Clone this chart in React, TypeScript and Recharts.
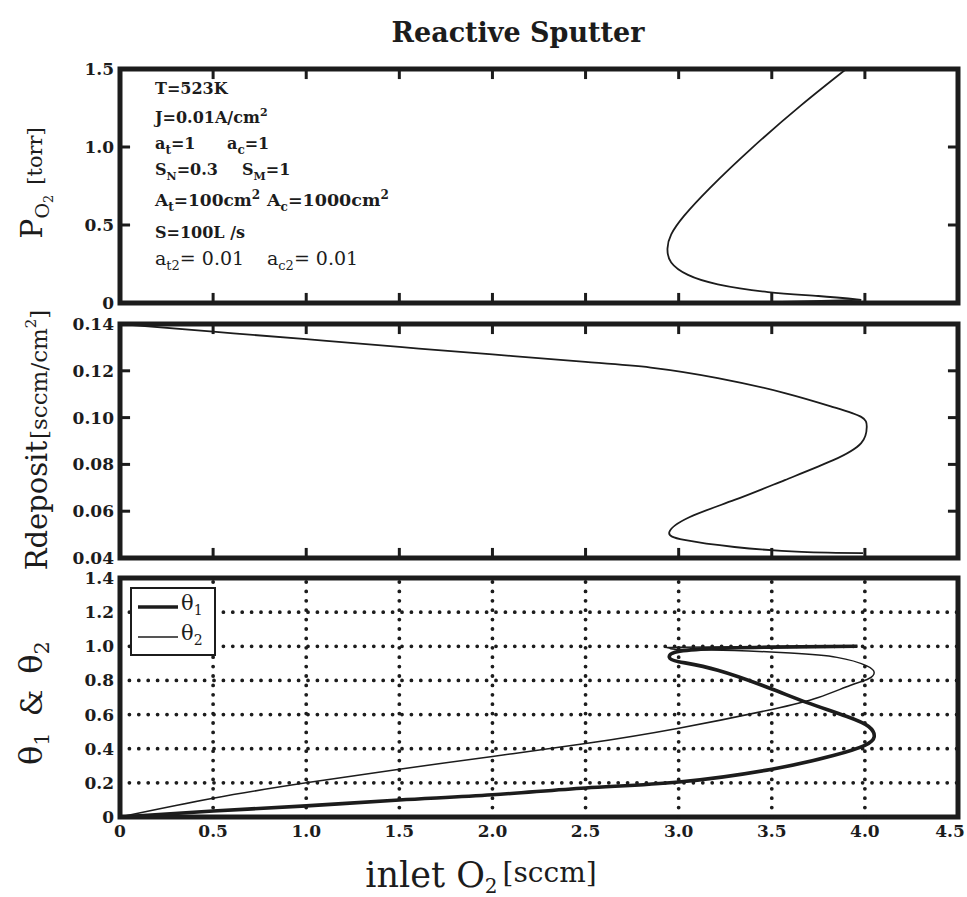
import React from 'react';
import { LineChart, Line, XAxis, YAxis, ReferenceArea, ReferenceLine, Legend } from 'recharts';

const SERIF = "'DejaVu Serif', serif";
const INK = '#1c1c1c';

// ---- axes / ticks ----
const xDomain: [number, number] = [0, 4.5];
const xTicks = [0, 0.5, 1, 1.5, 2, 2.5, 3, 3.5, 4, 4.5];
const pDomain: [number, number] = [0, 1.5];
const pTicks = [0, 0.5, 1.0, 1.5];
const rDomain: [number, number] = [0.04, 0.14];
const rTicks = [0.04, 0.06, 0.08, 0.1, 0.12, 0.14];
const thetaDomain: [number, number] = [0, 1.4];
const thetaTicks = [0, 0.2, 0.4, 0.6, 0.8, 1.0, 1.2, 1.4];
const xGridLines = [0.5, 1, 1.5, 2, 2.5, 3, 3.5, 4];
const thetaGridLines = [0.2, 0.4, 0.6, 0.8, 1.0, 1.2];

// ---- P_O2 [torr] vs inlet O2 ----
const pMetalBranch = [
  { x: 0, y: 0 }, { x: 1.0, y: 0.001 }, { x: 2.0, y: 0.002 }, { x: 3.0, y: 0.004 },
  { x: 3.5, y: 0.006 }, { x: 3.98, y: 0.02 },
];
const pCurve = [
  { x: 3.98, y: 0.02 }, { x: 3.75, y: 0.045 }, { x: 3.48, y: 0.07 }, { x: 3.21, y: 0.12 },
  { x: 3.05, y: 0.18 }, { x: 2.96, y: 0.26 }, { x: 2.94, y: 0.35 }, { x: 2.96, y: 0.44 },
  { x: 3.03, y: 0.56 }, { x: 3.17, y: 0.74 }, { x: 3.39, y: 0.99 }, { x: 3.66, y: 1.27 },
  { x: 3.9, y: 1.5 },
];

// ---- Rdeposit [sccm/cm2] vs inlet O2 ----
const rDeposit = [
  { x: 0, y: 0.14 }, { x: 0.5, y: 0.1367 }, { x: 1.0, y: 0.1335 }, { x: 1.5, y: 0.1302 },
  { x: 2.0, y: 0.127 }, { x: 2.5, y: 0.1238 }, { x: 2.85, y: 0.1214 }, { x: 3.21, y: 0.1169 },
  { x: 3.57, y: 0.1105 }, { x: 3.83, y: 0.1045 }, { x: 3.98, y: 0.1003 }, { x: 4.01, y: 0.096 },
  { x: 3.98, y: 0.0891 }, { x: 3.83, y: 0.0818 }, { x: 3.57, y: 0.0733 }, { x: 3.3, y: 0.0648 },
  { x: 3.06, y: 0.0575 }, { x: 2.95, y: 0.0511 }, { x: 3.03, y: 0.0477 }, { x: 3.3, y: 0.0447 },
  { x: 3.66, y: 0.0426 }, { x: 3.99, y: 0.0421 },
];

// ---- theta1 / theta2 vs inlet O2 ----
const theta1 = [
  { x: 0, y: 0 }, { x: 0.5, y: 0.035 }, { x: 1.0, y: 0.065 }, { x: 1.5, y: 0.1 },
  { x: 2.0, y: 0.13 }, { x: 2.5, y: 0.17 }, { x: 3.0, y: 0.205 }, { x: 3.5, y: 0.28 },
  { x: 3.83, y: 0.36 }, { x: 4.0, y: 0.42 }, { x: 4.05, y: 0.47 }, { x: 4.02, y: 0.53 },
  { x: 3.9, y: 0.59 }, { x: 3.69, y: 0.67 }, { x: 3.5, y: 0.75 }, { x: 3.21, y: 0.86 },
  { x: 3.0, y: 0.91 }, { x: 2.95, y: 0.935 }, { x: 2.98, y: 0.965 }, { x: 3.15, y: 0.985 },
  { x: 3.5, y: 0.995 }, { x: 3.96, y: 1.0 },
];
const theta2 = [
  { x: 0, y: 0 }, { x: 0.5, y: 0.11 }, { x: 1.0, y: 0.2 }, { x: 1.5, y: 0.28 },
  { x: 2.0, y: 0.355 }, { x: 2.5, y: 0.43 }, { x: 3.0, y: 0.52 }, { x: 3.5, y: 0.63 },
  { x: 3.75, y: 0.7 }, { x: 3.92, y: 0.77 }, { x: 4.02, y: 0.81 }, { x: 4.05, y: 0.845 },
  { x: 4.01, y: 0.885 }, { x: 3.85, y: 0.935 }, { x: 3.6, y: 0.96 }, { x: 3.3, y: 0.975 },
  { x: 3.0, y: 0.982 }, { x: 2.95, y: 0.99 }, { x: 3.0, y: 0.995 }, { x: 3.5, y: 0.998 },
  { x: 3.96, y: 1.0 },
];
const thetaNames = ['θ1', 'θ2'];

const fmt1 = (v: number) => (v === 0 ? '0' : v.toFixed(1));
const fmt2 = (v: number) => v.toFixed(2);

const tickFont = { fontFamily: SERIF, fontSize: 17, fontWeight: 700, fill: INK };
const tickLineStyle = { stroke: INK, strokeWidth: 3 };
const dotted = { stroke: INK, strokeWidth: 3.8, strokeDasharray: '0 9.4', strokeLinecap: 'round' as const };

// inward tick lengths as fractions of each axis span (~10px)
const X_TICK_FRAC = 0.012;
const Y_TICK_FRAC = 0.043;

const BottomXTick = (props: any) => {
  const { x, y, payload } = props;
  const last = payload.value === 4.5;
  return (
    <text x={last ? x - 8 : x} y={y} dy="0.71em" textAnchor="middle" {...tickFont}>
      {fmt1(payload.value)}
    </text>
  );
};

const ThetaLegend = (props: any) => {
  const { payload } = props;
  return (
    <div
      style={{
        border: `2px solid ${INK}`, background: '#fff', width: 86, height: 69,
        boxSizing: 'border-box', padding: '3px 0 0 6px',
      }}
    >
      {(payload || []).map((entry: any, i: number) => (
        <div key={i} style={{ display: 'flex', alignItems: 'center', height: 30 }}>
          <svg width={40} height={10} style={{ display: 'block' }}>
            <line x1={0} x2={40} y1={5} y2={5} stroke={INK} strokeWidth={entry.payload?.strokeWidth ?? 2} />
          </svg>
          <span style={{ fontFamily: SERIF, fontSize: 21, color: INK, marginLeft: 3, lineHeight: '22px' }}>
            {String(entry.value).slice(0, 1)}
            <sub style={{ fontSize: 14 }}>{String(entry.value).slice(1)}</sub>
          </span>
        </div>
      ))}
    </div>
  );
};

// inward tick marks on all four sides of a framed panel, placed through the chart scales
const innerTicks = (yTicks: number[], yDom: [number, number]) => {
  const lx = (xDomain[1] - xDomain[0]) * X_TICK_FRAC;
  const ly = (yDom[1] - yDom[0]) * Y_TICK_FRAC;
  const yMarks = yTicks.slice(1, -1).flatMap((v) => [
    <ReferenceLine key={`yl${v}`} xAxisId="b" yAxisId="l"
      segment={[{ x: xDomain[0], y: v }, { x: xDomain[0] + lx, y: v }]} {...tickLineStyle} />,
    <ReferenceLine key={`yr${v}`} xAxisId="b" yAxisId="l"
      segment={[{ x: xDomain[1] - lx, y: v }, { x: xDomain[1], y: v }]} {...tickLineStyle} />,
  ]);
  const xMarks = xTicks.slice(1, -1).flatMap((v) => [
    <ReferenceLine key={`xb${v}`} xAxisId="b" yAxisId="l"
      segment={[{ x: v, y: yDom[0] }, { x: v, y: yDom[0] + ly }]} {...tickLineStyle} />,
    <ReferenceLine key={`xt${v}`} xAxisId="b" yAxisId="l"
      segment={[{ x: v, y: yDom[1] - ly }, { x: v, y: yDom[1] }]} {...tickLineStyle} />,
  ]);
  return [...yMarks, ...xMarks];
};

export default function App() {
  return (
    <div style={{ position: 'absolute', left: 0, top: 0, width: 967, height: 897, background: '#fff' }}>
      {/* top panel */}
      <div style={{ position: 'absolute', left: 0, top: 0 }}>
        <LineChart width={967} height={318} margin={{ top: 69, right: 9, bottom: 15, left: 0 }}>
          <XAxis xAxisId="b" hide type="number" dataKey="x" domain={xDomain} ticks={xTicks} allowDataOverflow />
          <YAxis yAxisId="l" orientation="left" type="number" domain={pDomain} ticks={pTicks} interval={0}
            width={120} axisLine={false} tickLine={false} tickSize={0} tickMargin={6} tick={tickFont}
            tickFormatter={fmt1} allowDataOverflow />
          {innerTicks(pTicks, pDomain)}
          <Line xAxisId="b" yAxisId="l" data={pMetalBranch} dataKey="y" type="linear" stroke={INK}
            strokeWidth={1.6} dot={false} activeDot={false} isAnimationActive={false} />
          <Line xAxisId="b" yAxisId="l" data={pCurve} dataKey="y" type="natural" stroke={INK}
            strokeWidth={1.8} dot={false} activeDot={false} isAnimationActive={false} />
          <ReferenceArea xAxisId="b" yAxisId="l" x1={xDomain[0]} x2={xDomain[1]} y1={pDomain[0]} y2={pDomain[1]}
            fill="none" fillOpacity={0} stroke={INK} strokeWidth={5} />
        </LineChart>
      </div>

      {/* middle panel */}
      <div style={{ position: 'absolute', left: 0, top: 300 }}>
        <LineChart width={967} height={270} margin={{ top: 24, right: 9, bottom: 12, left: 0 }}>
          <XAxis xAxisId="b" hide type="number" dataKey="x" domain={xDomain} ticks={xTicks} allowDataOverflow />
          <YAxis yAxisId="l" orientation="left" type="number" domain={rDomain} ticks={rTicks} interval={0}
            width={120} axisLine={false} tickLine={false} tickSize={0} tickMargin={6} tick={tickFont}
            tickFormatter={fmt2} allowDataOverflow />
          {innerTicks(rTicks, rDomain)}
          <Line xAxisId="b" yAxisId="l" data={rDeposit} dataKey="y" type="natural" stroke={INK}
            strokeWidth={1.8} dot={false} activeDot={false} isAnimationActive={false} />
          <ReferenceArea xAxisId="b" yAxisId="l" x1={xDomain[0]} x2={xDomain[1]} y1={rDomain[0]} y2={rDomain[1]}
            fill="none" fillOpacity={0} stroke={INK} strokeWidth={5} />
        </LineChart>
      </div>

      {/* bottom panel */}
      <div style={{ position: 'absolute', left: 0, top: 560 }}>
        <LineChart width={967} height={337} margin={{ top: 18, right: 9, bottom: 50, left: 0 }}>
          <XAxis xAxisId="b" orientation="bottom" type="number" dataKey="x" domain={xDomain} ticks={xTicks}
            interval={0} height={30} axisLine={false} tickLine={false} tickSize={0} tickMargin={8}
            tick={(p: any) => <BottomXTick {...p} />} allowDataOverflow />
          <YAxis yAxisId="l" orientation="left" type="number" domain={thetaDomain} ticks={thetaTicks} interval={0}
            width={120} axisLine={false} tickLine={false} tickSize={0} tickMargin={6} tick={tickFont}
            tickFormatter={fmt1} allowDataOverflow />
          {xGridLines.map((v) => (
            <ReferenceLine key={`gx${v}`} xAxisId="b" yAxisId="l" x={v} {...dotted} />
          ))}
          {thetaGridLines.map((v) => (
            <ReferenceLine key={`gy${v}`} xAxisId="b" yAxisId="l" y={v} {...dotted} />
          ))}
          <Line xAxisId="b" yAxisId="l" data={theta1} dataKey="y" name={thetaNames[0]} type="natural"
            stroke={INK} strokeWidth={3.6} dot={false} activeDot={false} isAnimationActive={false} />
          <Line xAxisId="b" yAxisId="l" data={theta2} dataKey="y" name={thetaNames[1]} type="natural"
            stroke={INK} strokeWidth={1.5} dot={false} activeDot={false} isAnimationActive={false} />
          <ReferenceArea xAxisId="b" yAxisId="l" x1={xDomain[0]} x2={xDomain[1]} y1={thetaDomain[0]}
            y2={thetaDomain[1]} fill="none" fillOpacity={0} stroke={INK} strokeWidth={5} />
          <Legend layout="horizontal" verticalAlign="middle" align="center" content={<ThetaLegend />}
            wrapperStyle={{ left: 130, top: 27, width: 86, height: 69, bottom: 'auto', right: 'auto' }} />
        </LineChart>
      </div>

      {/* titles and annotations */}
      <svg width={967} height={897} style={{ position: 'absolute', left: 0, top: 0, pointerEvents: 'none' }}>
        <g fontFamily={SERIF} fill={INK}>
          <text x={518} y={42} textAnchor="middle" fontSize={27} fontWeight={700}>Reactive Sputter</text>

          <text transform="rotate(-90 42 183)" x={42} y={183} textAnchor="middle">
            <tspan fontSize={30}>P</tspan>
            <tspan fontSize={19} dy={7}>O</tspan>
            <tspan fontSize={13} dy={4}>2</tspan>
            <tspan fontSize={21} dy={-11} dx={10}>[torr]</tspan>
          </text>

          <text transform="rotate(-90 47 440)" x={47} y={440} textAnchor="middle">
            <tspan fontSize={29}>Rdeposit</tspan>
            <tspan fontSize={23} dx={2}>[sccm/cm</tspan>
            <tspan fontSize={15} dy={-11}>2</tspan>
            <tspan fontSize={23} dy={11}>]</tspan>
          </text>

          <text transform="rotate(-90 42 703)" x={42} y={703} textAnchor="middle">
            <tspan fontSize={32}>θ</tspan>
            <tspan fontSize={21} dy={7}>1</tspan>
            <tspan fontSize={30} dy={-7} dx={16}>&amp;</tspan>
            <tspan fontSize={32} dx={16}>θ</tspan>
            <tspan fontSize={21} dy={7}>2</tspan>
          </text>

          <text x={481} y={887} textAnchor="middle">
            <tspan fontSize={35}>inlet O</tspan>
            <tspan fontSize={20} dy={6}>2</tspan>
            <tspan fontSize={28} dy={-11} dx={5}>[sccm]</tspan>
          </text>
        </g>

        <g fontFamily={SERIF} fill={INK} fontWeight={700} fontSize={16}>
          <text x={155} y={94}>T=523K</text>
          <text x={155} y={123}>J=0.01A/cm<tspan fontSize={11} dy={-7}>2</tspan></text>
          <text x={155} y={149}>a<tspan fontSize={12} dy={5}>t</tspan><tspan dy={-5}>=1</tspan></text>
          <text x={227} y={149}>a<tspan fontSize={12} dy={5}>c</tspan><tspan dy={-5}>=1</tspan></text>
          <text x={155} y={175}>S<tspan fontSize={11} dy={5}>N</tspan><tspan dy={-5}>=0.3</tspan></text>
          <text x={242} y={175}>S<tspan fontSize={11} dy={5}>M</tspan><tspan dy={-5}>=1</tspan></text>
          <text x={155} y={206} fontSize={17}>
            A<tspan fontSize={12} dy={5}>t</tspan><tspan dy={-5}>=100cm</tspan><tspan fontSize={12} dy={-7}>2</tspan>
          </text>
          <text x={267} y={206} fontSize={17.5}>
            A<tspan fontSize={12} dy={5}>c</tspan><tspan dy={-5}>=1000cm</tspan><tspan fontSize={12} dy={-7}>2</tspan>
          </text>
          <text x={155} y={238}>S=100L /s</text>
          <text x={155} y={265} fontWeight={400} fontSize={19}>
            a<tspan fontSize={13} dy={5}>t2</tspan><tspan dy={-5}>= 0.01</tspan>
          </text>
          <text x={267} y={265} fontWeight={400} fontSize={19}>
            a<tspan fontSize={13} dy={5}>c2</tspan><tspan dy={-5}>= 0.01</tspan>
          </text>
        </g>
      </svg>
    </div>
  );
}
